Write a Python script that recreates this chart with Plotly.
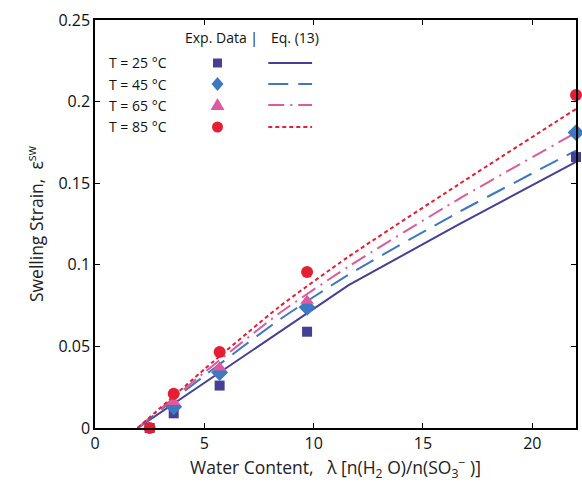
import plotly.graph_objects as go

# ---------------- data ----------------
temps = ["T = 25 °C", "T = 45 °C", "T = 65 °C", "T = 85 °C"]

x_exp_25 = [2.5, 3.6, 5.7, 9.7, 22.0]
eps_exp_25 = [0.0, 0.009, 0.026, 0.059, 0.166]
x_exp_45 = [3.6, 5.7, 9.7, 22.0]
eps_exp_45 = [0.013, 0.034, 0.074, 0.181]
x_exp_65 = [3.6, 5.7, 9.7]
eps_exp_65 = [0.016, 0.037, 0.078]
x_exp_85 = [2.5, 3.6, 5.7, 9.7, 22.0]
eps_exp_85 = [0.0, 0.021, 0.0466, 0.0956, 0.204]

x_model = [1.95, 5.0, 8.4, 11.6, 16.6, 22.0]
eps_model_25 = [0.0, 0.0276, 0.0584, 0.0875, 0.1245, 0.163]
eps_model_45 = [0.0, 0.032, 0.066, 0.094, 0.132, 0.170]
eps_model_65 = [0.0, 0.034, 0.070, 0.099, 0.140, 0.181]
eps_model_85 = [0.0, 0.036, 0.074, 0.105, 0.149, 0.1955]

x_ticks = [0, 5, 10, 15, 20]
y_ticks = [0, 0.05, 0.1, 0.15, 0.2, 0.25]
y_ticklabels = ["0", "0.05", "0.1", "0.15", "0.2", "0.25"]

# ---------------- styles ----------------
colors = ["#463f96", "#3d78c0", "#dc5a9d", "#e51f33"]
symbols = ["square", "diamond", "triangle-up", "circle"]
msizes = [10, 13, 12, 12]
dashes = ["solid", "20px,10px", "16px,6px,2px,6px", "4px,3px"]
shapes_line = ["linear", "spline", "spline", "spline"]
FONT = "Open Sans"

W, H = 582, 484
L, R, T, B = 95, 4, 20, 56
PW, PH = W - L - R, H - T - B


def px(xp):
    return (xp - L) / PW


def py(yp):
    return (H - B - yp) / PH


fig = go.Figure()

model_y = [eps_model_25, eps_model_45, eps_model_65, eps_model_85]
for i in range(4):
    fig.add_trace(go.Scatter(
        x=x_model, y=model_y[i], mode="lines",
        line=dict(color=colors[i], width=2, dash=dashes[i], shape=shapes_line[i], smoothing=0.6),
        showlegend=False, hoverinfo="skip"))

exp_x = [x_exp_25, x_exp_45, x_exp_65, x_exp_85]
exp_y = [eps_exp_25, eps_exp_45, eps_exp_65, eps_exp_85]
for i in range(4):
    fig.add_trace(go.Scatter(
        x=exp_x[i], y=exp_y[i], mode="markers", cliponaxis=False,
        marker=dict(color=colors[i], symbol=symbols[i], size=msizes[i], line=dict(width=0)),
        showlegend=False))

# ---------------- custom legend ----------------
annotations = [
    dict(text="Exp. Data |", x=px(183), y=py(38), xanchor="left", yanchor="middle"),
    dict(text="Eq. (13)", x=px(270), y=py(38), xanchor="left", yanchor="middle"),
]
row_y = [63, 84, 105, 127]
shapes = []
mx = 218
for i, lab in enumerate(temps):
    yy = row_y[i]
    annotations.append(dict(text=lab, x=px(107), y=py(yy), xanchor="left", yanchor="middle"))
    shapes.append(dict(type="line", xref="paper", yref="paper",
                       x0=px(269), x1=px(313), y0=py(yy), y1=py(yy),
                       line=dict(color=colors[i], width=2, dash=dashes[i])))
for i in range(4):
    yy = row_y[i]
    c = colors[i]
    if i == 0:
        shapes.append(dict(type="rect", xref="paper", yref="paper",
                           x0=px(mx - 4.5), x1=px(mx + 4.5), y0=py(yy - 4.5), y1=py(yy + 4.5),
                           fillcolor=c, line=dict(width=0)))
    elif i == 1:
        path = "M {} {} L {} {} L {} {} L {} {} Z".format(
            px(mx), py(yy - 7), px(mx + 6), py(yy), px(mx), py(yy + 7), px(mx - 6), py(yy))
        shapes.append(dict(type="path", xref="paper", yref="paper", path=path,
                           fillcolor=c, line=dict(width=0)))
    elif i == 2:
        path = "M {} {} L {} {} L {} {} Z".format(
            px(mx), py(yy - 7), px(mx + 7), py(yy + 5), px(mx - 7), py(yy + 5))
        shapes.append(dict(type="path", xref="paper", yref="paper", path=path,
                           fillcolor=c, line=dict(width=0)))
    else:
        shapes.append(dict(type="circle", xref="paper", yref="paper",
                           x0=px(mx - 5.5), x1=px(mx + 5.5), y0=py(yy - 5.5), y1=py(yy + 5.5),
                           fillcolor=c, line=dict(width=0)))

for a in annotations:
    a.update(xref="paper", yref="paper", showarrow=False,
             font=dict(family=FONT, size=14, color="#111"))

fig.update_layout(
    width=W, height=H,
    margin=dict(l=L, r=R, t=T, b=B, pad=0),
    paper_bgcolor="white", plot_bgcolor="white",
    font=dict(family=FONT, size=16, color="#111"),
    annotations=annotations, shapes=shapes,
    xaxis=dict(range=[0, 22], tickvals=x_ticks, ticks="inside", ticklen=5,
               tickcolor="black", showline=True, linecolor="black", linewidth=1.5,
               mirror="ticks", showgrid=False, zeroline=False,
               tickfont=dict(size=16, color="#111"),
               title=dict(text="Water Content,   λ [n(H<sub>2</sub> O)/n(SO<sub>3</sub><sup>−</sup> )]",
                          font=dict(size=17.5, color="#222"), standoff=5)),
    yaxis=dict(range=[0, 0.25], tickvals=y_ticks, ticktext=y_ticklabels, ticks="inside",
               ticklen=5, tickcolor="black", showline=True, linecolor="black", linewidth=1.5,
               mirror="ticks", showgrid=False, zeroline=False,
               tickfont=dict(size=16, color="#111"),
               title=dict(text="Swelling Strain,  ε<sup>sw</sup>",
                          font=dict(size=17.5, color="#222"), standoff=10)),
)

fig.write_html("out.html", config={"displayModeBar": False},
               post_script="document.body.style.margin='0';document.body.style.padding='0';")
